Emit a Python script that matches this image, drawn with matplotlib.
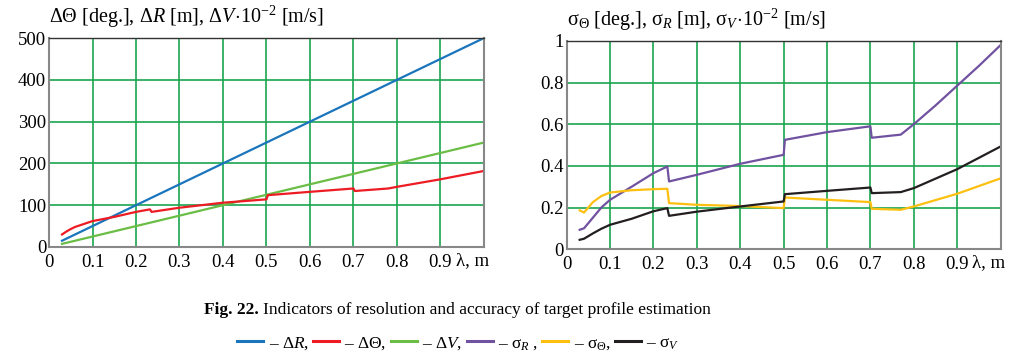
"""
Resolution and accuracy indicators vs wavelength
"""

import matplotlib.pyplot as plt
from matplotlib.lines import Line2D

plt.rcParams["font.family"] = "Liberation Serif"
plt.rcParams["mathtext.fontset"] = "custom"
plt.rcParams["mathtext.rm"] = "Liberation Serif"
plt.rcParams["mathtext.it"] = "Liberation Serif:italic"
plt.rcParams["mathtext.bf"] = "Liberation Serif:bold"

# Left panel: resolution
lam_lin = [0.03, 1.0]
dR = [15, 500]
dV = [7.5, 250]
lam_dtheta = [0.03, 0.04, 0.05, 0.06, 0.08, 0.1, 0.125, 0.15, 0.2, 0.232, 0.236,
              0.3, 0.4, 0.5, 0.503, 0.6, 0.7, 0.703, 0.78, 0.8, 0.9, 1.0]
dTheta = [30, 37, 43, 48, 55, 62, 67, 72, 84, 90, 84,
          94, 106, 114, 124, 132, 140, 134, 140, 144, 162, 182]

# Right panel: accuracy
lam_sR = [0.03, 0.04, 0.06, 0.08, 0.1, 0.15, 0.2, 0.232, 0.236, 0.3, 0.4, 0.5, 0.503,
          0.6, 0.7, 0.703, 0.77, 0.8, 0.85, 0.9, 0.95, 1.0]
sR = [0.093, 0.10, 0.15, 0.20, 0.237, 0.30, 0.365, 0.397, 0.325, 0.357, 0.41, 0.453, 0.525,
      0.562, 0.59, 0.535, 0.55, 0.6, 0.69, 0.785, 0.88, 0.98]
lam_sT = [0.03, 0.04, 0.05, 0.06, 0.08, 0.1, 0.15, 0.2, 0.232, 0.236, 0.3, 0.4, 0.5, 0.503,
          0.6, 0.7, 0.703, 0.77, 0.8, 0.9, 1.0]
sTheta = [0.186, 0.176, 0.2, 0.225, 0.255, 0.272, 0.283, 0.288, 0.29, 0.221, 0.213, 0.207, 0.197, 0.248,
          0.237, 0.226, 0.194, 0.189, 0.205, 0.266, 0.34]
lam_sV = [0.03, 0.04, 0.06, 0.08, 0.1, 0.15, 0.2, 0.232, 0.236, 0.3, 0.4, 0.5, 0.503,
          0.6, 0.7, 0.703, 0.77, 0.8, 0.9, 1.0]
sV = [0.045, 0.05, 0.075, 0.098, 0.117, 0.146, 0.182, 0.197, 0.16, 0.18, 0.205, 0.229, 0.264,
      0.28, 0.296, 0.269, 0.274, 0.293, 0.384, 0.493]

xticks = [0, 0.1, 0.2, 0.3, 0.4, 0.5, 0.6, 0.7, 0.8, 0.9, 1.0]
xlabels = ["0", "0.1", "0.2", "0.3", "0.4", "0.5", "0.6", "0.7", "0.8", "0.9", ""]

c_blue, c_red, c_green = "#1a75bc", "#ed1c24", "#6abd45"
c_purple, c_yellow, c_black = "#7052a0", "#fdc010", "#231f20"
grid_c = "#1aa64f"
lw = 1.6
tick_fs = 13.5

fig = plt.figure(figsize=(10.21, 3.59), dpi=100)
ax1 = fig.add_axes([0.048, 0.312, 0.426, 0.582])
ax2 = fig.add_axes([0.555, 0.306, 0.425, 0.580])

for ax in (ax1, ax2):
    ax.set_xlim(0, 1)
    ax.set_xticks(xticks)
    ax.set_xticklabels(xlabels)
    ax.grid(True, color=grid_c, lw=1.2)
    ax.set_axisbelow(True)
    ax.tick_params(length=0, labelsize=tick_fs)
    ax.tick_params(axis="x", pad=5)
    ax.tick_params(axis="y", pad=2)
    ax.text(0.973, -0.025, "λ, m", transform=ax.transAxes, ha="center", va="top",
            fontsize=tick_fs)
    for s in ax.spines.values():
        s.set_color("#888888")
        s.set_linewidth(1.5)
    ax.spines["top"].set_color("#333333")
    ax.spines["top"].set_linewidth(1.0)

ax1.plot(lam_lin, dR, color=c_blue, lw=lw)
ax1.plot(lam_lin, dV, color=c_green, lw=lw)
ax1.plot(lam_dtheta, dTheta, color=c_red, lw=lw)
ax1.set_ylim(0, 500)
ax1.set_yticks([0, 100, 200, 300, 400, 500])
ax1.text(0.0, 1.038, r"$\Delta\Theta$ [deg.], $\Delta R$ [m], $\Delta V\!\cdot\!10^{-2}$ [m/s]",
         transform=ax1.transAxes, fontsize=14.5, va="bottom")

ax2.plot(lam_sR, sR, color=c_purple, lw=lw)
ax2.plot(lam_sT, sTheta, color=c_yellow, lw=lw)
ax2.plot(lam_sV, sV, color=c_black, lw=lw)
ax2.set_ylim(0, 1)
ax2.set_yticks([0, 0.2, 0.4, 0.6, 0.8, 1.0])
ax2.set_yticklabels(["0", "0.2", "0.4", "0.6", "0.8", "1"])
ax2.text(0.0, 1.038, r"σ$_\Theta$ [deg.], σ$_R$ [m], σ$_V\!\cdot\!10^{-2}$ [m/s]",
         transform=ax2.transAxes, fontsize=14.5, va="bottom")

fig.text(259 / 1021, 0.136, "Fig. 22.", fontweight="bold",
         ha="right", va="center", fontsize=12.5)
fig.text(263 / 1021, 0.136, "Indicators of resolution and accuracy of target profile estimation",
         ha="left", va="center", fontsize=12.5)

handles = [Line2D([], [], color=c, lw=2.2) for c in
           (c_blue, c_red, c_green, c_purple, c_yellow, c_black)]
labels = [r"– $\Delta R$,", r"– $\Delta\Theta$,", r"– $\Delta V$,",
          r"– σ$_R$ ,", r"– σ$_\Theta$,", r"– σ$_V$"]
fig.legend(handles, labels, ncol=6, frameon=False, loc="center",
           bbox_to_anchor=(0.449, 0.044), fontsize=12.5, handlelength=1.5,
           handletextpad=0.3, columnspacing=0.25, borderpad=0)

fig.savefig("out.png", dpi=100)
